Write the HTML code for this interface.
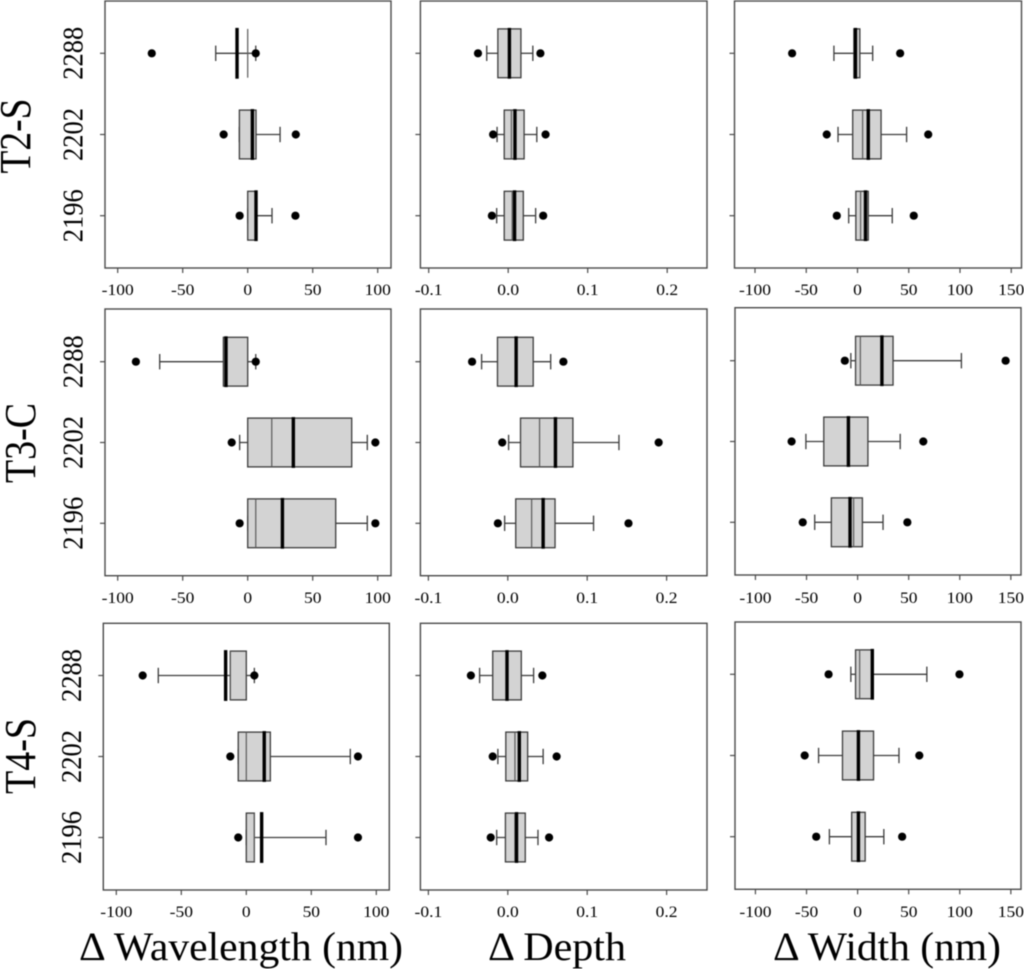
<!DOCTYPE html>
<html>
<head>
<meta charset="utf-8">
<title>Boxplots of wavelength, depth and width changes</title>
<style>
html,body{margin:0;padding:0;background:#fff;width:1024px;height:969px;overflow:hidden}
svg{display:block;filter:blur(.45px)}
text{font-family:"Liberation Serif",serif;fill:#000}
</style>
</head>
<body>
<svg id="figure" xmlns="http://www.w3.org/2000/svg" width="1024" height="969" viewBox="0 0 1024 969">
<text transform="translate(30,136) rotate(-90)" font-size="44" text-anchor="middle" textLength="75" lengthAdjust="spacingAndGlyphs">T2-S</text>
<text transform="translate(35,443) rotate(-90)" font-size="44" text-anchor="middle" textLength="80" lengthAdjust="spacingAndGlyphs">T3-C</text>
<text transform="translate(35,756) rotate(-90)" font-size="44" text-anchor="middle" textLength="76" lengthAdjust="spacingAndGlyphs">T4-S</text>
<text x="79" y="960" font-size="40" textLength="324" lengthAdjust="spacingAndGlyphs">Δ Wavelength (nm)</text>
<text x="488" y="960" font-size="40" textLength="138" lengthAdjust="spacingAndGlyphs">Δ Depth</text>
<text x="773" y="960" font-size="40" textLength="228" lengthAdjust="spacingAndGlyphs">Δ Width (nm)</text>
</svg>
<script>
// Categories, bottom to top on each panel
const sites = ['2196', '2202', '2288'];
const rowNames = ['T2-S', 'T3-C', 'T4-S'];
const columnNames = ['wavelength', 'depth', 'width'];

// Tick values and labels
const wavelengthTicks = [-100, -50, 0, 50, 100];
const wavelengthTickLabels = ['-100', '-50', '0', '50', '100'];
const depthTicks = [-0.1, 0, 0.1, 0.2];
const depthTickLabels = ['-0.1', '0.0', '0.1', '0.2'];
const widthTicks = [-100, -50, 0, 50, 100, 150];
const widthTickLabels = ['-100', '-50', '0', '50', '100', '150'];

// Each site: [low outlier, low whisker, Q1, thin median, Q3, high whisker, high outlier, thick mean]
const t2sWavelength = [
  [-6.2, 0, 0, 6.2, 6.4, 18.7, 36.7, 6.4],
  [-18.5, -6.4, -6.4, 3, 6.4, 24.9, 37, 3.6],
  [-73.8, -24.6, 0, 0, 0, 6.2, 6.2, -8.2]
];
const t2sDepth = [
  [-0.0205, -0.0145, -0.005, 0.005, 0.019, 0.0345, 0.044, 0.008],
  [-0.019, -0.014, -0.005, 0.004, 0.02, 0.036, 0.047, 0.0085],
  [-0.038, -0.027, -0.013, 0.001, 0.016, 0.031, 0.0405, 0.0015]
];
const t2sWidth = [
  [-20.2, -8.6, -1.6, 3, 10.5, 33.9, 54.9, 7.8],
  [-30, -19, -4.7, 5, 23, 47.9, 69, 10.5],
  [-63.8, -23, -3.5, -2, 2.3, 14.8, 41.6, -2]
];
const t3cWavelength = [
  [-6.2, 0, 0, 6.2, 67.7, 92, 98.2, 26.7],
  [-12.3, -6.2, 0, 18.5, 80, 92, 98.2, 35.1],
  [-86, -67.7, -18.7, -16.7, 0, 6.2, 6.2, -16.7]
];
const t3cDepth = [
  [-0.0125, -0.004, 0.01, 0.03, 0.0595, 0.108, 0.152, 0.0445],
  [-0.007, 0.001, 0.016, 0.04, 0.082, 0.14, 0.19, 0.06],
  [-0.045, -0.033, -0.013, 0.0105, 0.032, 0.054, 0.07, 0.0105]
];
const t3cWidth = [
  [-53.7, -42, -25.7, -3.9, 4.7, 24.9, 48.7, -7.4],
  [-64.6, -50.6, -33.1, -9, 10.1, 41.7, 64.3, -9],
  [-12.5, -6.6, -2, 2.7, 34.7, 101.6, 144.9, 23.8]
];
const t4sWavelength = [
  [-6.2, 0, 0, 6.2, 6.2, 61.3, 85.9, 11.8],
  [-12.3, -6.2, -6.2, 0, 18.5, 80, 85.9, 13.8],
  [-79.7, -67.7, -12.3, -12.3, 0, 6.2, 6.2, -15.9]
];
const t4sDepth = [
  [-0.0215, -0.014, -0.003, 0.009, 0.022, 0.038, 0.052, 0.011],
  [-0.019, -0.0125, -0.0025, 0.009, 0.025, 0.0445, 0.0615, 0.0145],
  [-0.0465, -0.0355, -0.019, 0, 0.017, 0.0325, 0.0435, -0.001]
];
const t4sWidth = [
  [-40.5, -27.6, -5.8, 0, 7.4, 25.7, 43.6, 0.8],
  [-51.8, -38.2, -14.8, 0.8, 15.6, 40.5, 60.4, 0.8],
  [-28.4, -6.6, -2, 2, 14.8, 67.8, 99.7, 14.4]
];

const panelData = [
  [t2sWavelength, t2sDepth, t2sWidth],
  [t3cWavelength, t3cDepth, t3cWidth],
  [t4sWavelength, t4sDepth, t4sWidth]
];
const columnTicks = [wavelengthTicks, depthTicks, widthTicks];
const columnTickLabels = [wavelengthTickLabels, depthTickLabels, widthTickLabels];

// Layout of the panels on the page: frame, horizontal axis, vertical axis
const panelLayout = [
  [
    {l:105, r:391, t:1, b:268, x0:247.7, k:1.3, y0:215.7, dy:81.2, lab:295},
    {l:420.4, r:707, t:1, b:268, x0:508.2, k:795, y0:215.7, dy:81.2, lab:295},
    {l:734.5, r:1021.5, t:1, b:268, x0:857.5, k:1.025, y0:215.7, dy:81.2, lab:295}
  ],
  [
    {l:105, r:391, t:309, b:575.7, x0:247.7, k:1.3, y0:523.3, dy:80.8, lab:603},
    {l:420.4, r:707, t:309, b:575.7, x0:507.8, k:794, y0:523.3, dy:80.8, lab:603},
    {l:735, r:1021, t:307.7, b:575, x0:857.6, k:1.0216, y0:522.3, dy:80.8, lab:603}
  ],
  [
    {l:103.3, r:389.3, t:623.3, b:890, x0:246.3, k:1.3, y0:837.5, dy:81, lab:917},
    {l:420.4, r:707, t:623.3, b:890, x0:507.8, k:794, y0:837.5, dy:81, lab:917},
    {l:735, r:1021, t:622, b:889.3, x0:857.6, k:1.0216, y0:836.7, dy:81.2, lab:917}
  ]
];

const SVG_NS = 'http://www.w3.org/2000/svg';
const figure = document.getElementById('figure');

function shape(parent, tag, attrs) {
  const node = document.createElementNS(SVG_NS, tag);
  for (const key in attrs) node.setAttribute(key, attrs[key]);
  parent.appendChild(node);
  return node;
}
function line(parent, x1, y1, x2, y2, stroke, width) {
  return shape(parent, 'line', {x1: x1, y1: y1, x2: x2, y2: y2, stroke: stroke, 'stroke-width': width});
}
function xScale(p, value) { return p.x0 + value * p.k; }
function yScale(p, index) { return p.y0 - index * p.dy; }

const BOX_HALF = 24.4;
const CAP_HALF = 7.7;
const MEAN_HALF = 25.4;
const STROKE = '#3c3c3c';

panelLayout.forEach(function (rowLayout, r) {
  rowLayout.forEach(function (p, c) {
    const panel = shape(figure, 'g', {});
    
    

    const frame = shape(panel, 'rect', {x: p.l, y: p.t, width: p.r - p.l, height: p.b - p.t, fill: '#fff', stroke: '#4a4a4a', 'stroke-width': 1.4});
    
    

    columnTicks[c].forEach(function (tick, i) {
      const px = xScale(p, tick);
      const mark = line(panel, px, p.b, px, p.b + 5, '#4a4a4a', 1.2);
      
      
      const label = shape(panel, 'text', {transform: 'translate(' + px + ',' + p.lab + ') scale(1.13,1)', 'font-size': 15.5, 'text-anchor': 'middle'});
      label.textContent = columnTickLabels[c][i];
      
      
    });

    sites.forEach(function (site, s) {
      const y = yScale(p, s);
      const tickMark = line(panel, p.l - 5, y, p.l, y, '#4a4a4a', 1.2);
      
      
      if (c === 0) {
        const siteLabel = shape(panel, 'text', {transform: 'translate(' + (p.l - 22.5) + ',' + y + ') rotate(-90) scale(.93,1)', 'font-size': 28.5, 'text-anchor': 'middle'});
        siteLabel.textContent = site;
        
        
      }

      const v = panelData[r][c][s];
      const group = shape(panel, 'g', {});
      
      

      const whiskerLow = line(group, xScale(p, v[1]), y, xScale(p, v[2]), y, STROKE, 1.3);
      
      
      const whiskerHigh = line(group, xScale(p, v[4]), y, xScale(p, v[5]), y, STROKE, 1.3);
      
      
      const capLow = line(group, xScale(p, v[1]), y - CAP_HALF, xScale(p, v[1]), y + CAP_HALF, STROKE, 1.3);
      
      
      const capHigh = line(group, xScale(p, v[5]), y - CAP_HALF, xScale(p, v[5]), y + CAP_HALF, STROKE, 1.3);
      
      

      const body = shape(group, 'rect', {x: xScale(p, v[2]), y: y - BOX_HALF, width: xScale(p, v[4]) - xScale(p, v[2]), height: 2 * BOX_HALF, fill: '#d3d3d3', stroke: STROKE, 'stroke-width': 1.3});
      
      

      const median = line(group, xScale(p, v[3]), y - BOX_HALF, xScale(p, v[3]), y + BOX_HALF, '#5a5a5a', 1.2);
      
      
      const mean = line(group, xScale(p, v[7]), y - MEAN_HALF, xScale(p, v[7]), y + MEAN_HALF, '#000', 3.4);
      
      

      const low = shape(group, 'circle', {cx: xScale(p, v[0]), cy: y, r: 4.1, fill: '#000'});
      
      
      const high = shape(group, 'circle', {cx: xScale(p, v[6]), cy: y, r: 4.1, fill: '#000'});
      
      
    });
  });
});
</script>
</body>
</html>
